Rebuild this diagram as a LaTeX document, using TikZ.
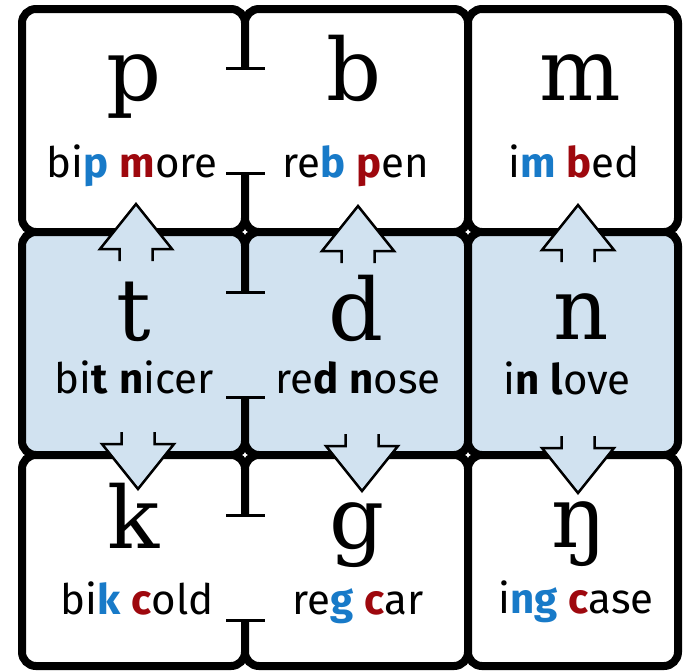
\documentclass[tikz,border=0pt]{standalone}
\usepackage{fontspec}
\setmainfont{DejaVu Serif}
\setsansfont{Fira Sans}

\definecolor{rowblue}{RGB}{209,226,240}
\definecolor{codablue}{RGB}{24,122,200}
\definecolor{onsetred}{RGB}{158,8,14}
\newcommand{\codaltr}[1]{{\bfseries\color{codablue}#1}}
\newcommand{\onsetltr}[1]{{\bfseries\color{onsetred}#1}}

\tikzset{
  cell/.style={draw=black, line width=8pt, rounded corners=14pt, inner sep=0pt, minimum height=223pt},
  phone/.style={font=\fontsize{86}{86}\selectfont, anchor=base, inner sep=0pt},
  word/.style={font=\sffamily\fontsize{42}{42}\selectfont, anchor=base, inner sep=0pt},
  stopbar/.style={line width=3pt},
  pics/blockarrow/.style={code={
    \fill[rowblue] (-16.5,12) -- (-16.5,0) -- (-36,0) -- (0,-45) -- (36,0) -- (16.5,0) -- (16.5,12) -- cycle;
    \draw[line width=2.5pt] (-16.5,12) -- (-16.5,0) -- (-36,0) -- (0,-45) -- (36,0) -- (16.5,0) -- (16.5,12);
  }}
}

\begin{document}
\begin{tikzpicture}[x=1pt,y=-1pt]
  \useasboundingbox (0,0) rectangle (686,670);
  \fill[white] (0,0) rectangle (686,670);

  % cells
  \node[cell, fill=white, minimum width=223pt] (pcell) at (133.5,120.5) {};
  \node[cell, fill=white, minimum width=223pt] (bcell) at (356.5,120.5) {};
  \node[cell, fill=white, minimum width=210pt] (mcell) at (573,120.5) {};
  \node[cell, fill=rowblue, minimum width=223pt] (tcell) at (133.5,343.5) {};
  \node[cell, fill=rowblue, minimum width=223pt] (dcell) at (356.5,343.5) {};
  \node[cell, fill=rowblue, minimum width=210pt] (ncell) at (573,343.5) {};
  \node[cell, fill=white, minimum width=223pt, minimum height=211pt] (kcell) at (133.5,560.5) {};
  \node[cell, fill=white, minimum width=223pt, minimum height=211pt] (gcell) at (356.5,560.5) {};
  \node[cell, fill=white, minimum width=210pt, minimum height=211pt] (engcell) at (573,560.5) {};

  % openings between the pairs
  \fill[white] (239.5,68) rectangle (250.5,173);
  \fill[rowblue] (239.5,292) rectangle (250.5,397);
  \fill[white] (239.5,515) rectangle (250.5,620);
  \draw[stopbar] (226,68) -- (265,68);
  \draw[stopbar] (226,173) -- (265,173);
  \draw[stopbar] (226,292) -- (265,292);
  \draw[stopbar] (226,397) -- (265,397);
  \draw[stopbar] (226,515) -- (265,515);
  \draw[stopbar] (226,620) -- (265,620);

  % arrows
  \pic at (136,249) {blockarrow};
  \pic at (358,251) {blockarrow};
  \pic at (578,250) {blockarrow};
  \pic[rotate=180] at (138,444) {blockarrow};
  \pic[rotate=180] at (362,446) {blockarrow};
  \pic[rotate=180] at (578,448) {blockarrow};

  % letters
  \node[phone] (p) at (134,100) {p};
  \node[phone] (b) at (354,100) {b};
  \node[phone] (m) at (580,100) {m};
  \node[phone] (t) at (134,340) {t};
  \node[phone] (d) at (356,340) {d};
  \node[phone] (n) at (581,339) {n};
  \node[phone] (k) at (134,548) {k};
  \node[phone] (g) at (357,548) {g};
  \node[phone] (eng) at (579,547) {ŋ};

  % example words
  \node[word] (pword) at (132,177) {bi\codaltr{p} \onsetltr{m}ore};
  \node[word] (bword) at (356,177) {re\codaltr{b} \onsetltr{p}en};
  \node[word] (mword) at (574,177) {i\codaltr{m} \onsetltr{b}ed};
  \node[word] (tword) at (134,393) {bi\textbf{t} \textbf{n}icer};
  \node[word] (dword) at (358,393) {re\textbf{d} \textbf{n}ose};
  \node[word] (nword) at (567,394) {i\textbf{n} \textbf{l}ove};
  \node[word] (kword) at (137,614) {bi\codaltr{k} \onsetltr{c}old};
  \node[word] (gword) at (358,614) {re\codaltr{g} \onsetltr{c}ar};
  \node[word] (engword) at (576,613) {i\codaltr{ng} \onsetltr{c}ase};
\end{tikzpicture}
\end{document}
